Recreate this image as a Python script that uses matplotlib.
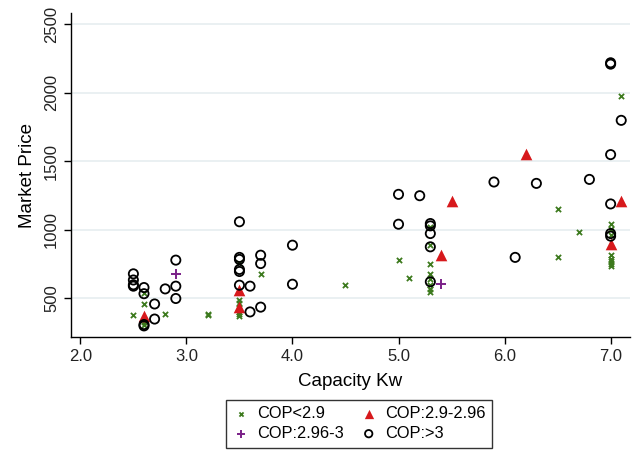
import matplotlib
matplotlib.use('Agg')
import matplotlib.pyplot as plt

plt.rcParams['font.family'] = ['Liberation Sans', 'DejaVu Sans']

# COP < 2.9
low_x = [2.5, 2.6, 2.6, 2.6, 2.6, 2.8, 3.2, 3.2,
         3.5, 3.5, 3.5, 3.5, 3.5, 3.5, 3.5, 3.7, 4.5,
         5.0, 5.1, 5.3, 5.3, 5.3, 5.3, 5.3, 5.3, 5.3, 5.3,
         6.5, 6.5, 6.7,
         7.0, 7.0, 7.0, 7.0, 7.0, 7.0, 7.0, 7.0, 7.1]
low_y = [380, 540, 460, 330, 310, 390, 385, 380,
         760, 490, 470, 430, 400, 385, 375, 680, 600,
         780, 650, 1020, 890, 750, 680, 640, 600, 570, 545,
         1150, 800, 985,
         1040, 1010, 960, 820, 790, 770, 750, 740, 1980]

# COP 2.9 - 2.96
mid_x = [2.6, 3.5, 3.5, 5.4, 5.5, 6.2, 7.0, 7.1]
mid_y = [375, 560, 440, 818, 1215, 1555, 895, 1210]

# COP 2.96 - 3
upper_x = [2.9, 5.4]
upper_y = [680, 604]

# COP > 3
high_x = [2.5, 2.5, 2.5, 2.5, 2.6, 2.6, 2.6, 2.6, 2.7, 2.7, 2.8,
          2.9, 2.9, 2.9,
          3.5, 3.5, 3.5, 3.5, 3.5, 3.5, 3.6, 3.6, 3.7, 3.7, 3.7,
          4.0, 4.0, 5.0, 5.0, 5.2,
          5.3, 5.3, 5.3, 5.3, 5.3,
          5.9, 6.1, 6.3, 6.8,
          7.0, 7.0, 7.0, 7.0, 7.0, 7.0, 7.1]
high_y = [680, 635, 600, 590, 580, 535, 310, 300, 460, 350, 570,
          780, 590, 500,
          1060, 800, 785, 712, 697, 597, 590, 402, 816, 755, 437,
          889, 604, 1260, 1042, 1250,
          1047, 1030, 974, 877, 622,
          1350, 800, 1340, 1369,
          2220, 2210, 1550, 1190, 974, 955, 1800]

x_ticks = [2.0, 3.0, 4.0, 5.0, 6.0, 7.0]
y_ticks = [500, 1000, 1500, 2000, 2500]

fig = plt.figure(figsize=(6.38, 4.54), dpi=100)
ax = fig.add_axes([0.111, 0.258, 0.876, 0.713])

ax.scatter(low_x, low_y, marker='x', s=14, color='#3d7a1e', linewidths=1.3,
           label='COP<2.9', zorder=3)
ax.scatter(upper_x, upper_y, marker='+', s=60, color='#7b2088', linewidths=1.4,
           label='COP:2.96-3', zorder=3)
ax.scatter(mid_x, mid_y, marker='^', s=70, color='#d7191c', linewidths=0,
           label='COP:2.9-2.96', zorder=4)
ax.scatter(high_x, high_y, marker='o', s=44, facecolors='none', edgecolors='black',
           linewidths=1.3, label='COP:>3', zorder=5)

ax.set_xlim(1.91, 7.18)
ax.set_ylim(220, 2582)
ax.set_xticks(x_ticks)
ax.set_xticklabels([f'{v:.1f}' for v in x_ticks])
ax.set_yticks(y_ticks)
ax.set_yticklabels([str(v) for v in y_ticks], rotation=90, va='center')
ax.tick_params(labelsize=12, length=5, width=1, direction='out', labelcolor='#222222')
ax.grid(axis='y', color='#e6eef0', linewidth=1.2, zorder=0)
ax.set_axisbelow(True)
for side in ['top', 'right']:
    ax.spines[side].set_visible(False)
ax.spines['left'].set_linewidth(1)
ax.spines['bottom'].set_linewidth(1)

ax.set_xlabel('Capacity Kw', fontsize=13.5, labelpad=7)
ax.set_ylabel('Market Price', fontsize=13.5, labelpad=6)

fig.legend(loc='upper center', bbox_to_anchor=(0.563, 0.12), ncol=2,
           fontsize=11.8, frameon=True, fancybox=False, edgecolor='black',
           borderpad=0.4, borderaxespad=0, handletextpad=0.5, columnspacing=1.0,
           labelspacing=0.3, handlelength=1.0, markerscale=0.8)

fig.savefig('out.png', dpi=100)
